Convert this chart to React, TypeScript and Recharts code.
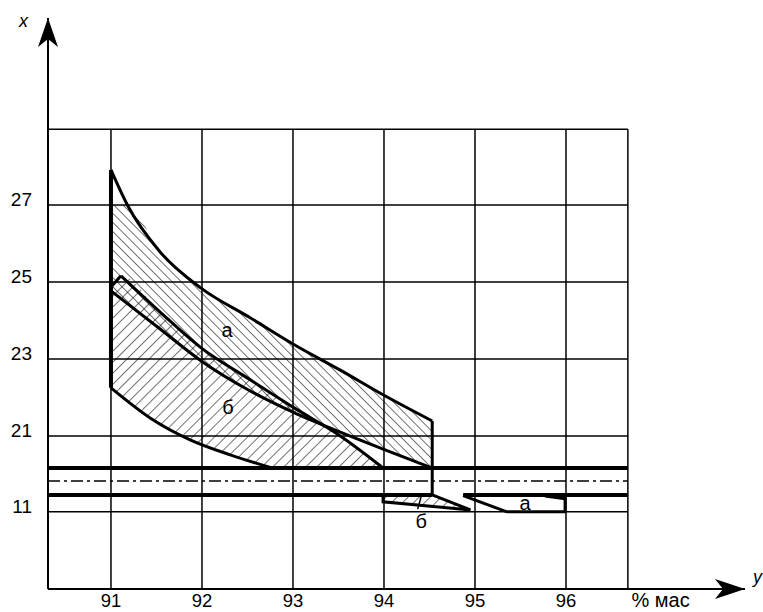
import React from 'react';
import { ComposedChart, XAxis, YAxis, Line, Area, ReferenceLine, ReferenceDot } from 'recharts';

// ---- axis frame (axis units; the y axis is broken below 21, "11" sits at 19.03) ----
const X_MIN = 90.308;
const X_MAX = 97.967;
const Y_MIN = 17.026;
const Y_MAX = 31.857;
const GRID_RIGHT = 96.68;
const GRID_TOP = 28.97;

const xTicks = [91, 92, 93, 94, 95, 96, 97.04];
const xTickLabels = ['91', '92', '93', '94', '95', '96', '% мас'];
const yTicks = [19.03, 21, 23, 25, 27];
const yTickLabels = ['11', '21', '23', '25', '27'];

const gridX = [91, 92, 93, 94, 95, 96, GRID_RIGHT];
const gridY = [19.03, 21, 23, 25, 27, GRID_TOP];
const thickUpperY = 20.17;
const dashDotY = 19.83;
const thickLowerY = 19.47;
const thickLowerSegments = [[X_MIN, 94.53], [94.87, GRID_RIGHT]];

// ---- outlines ----
const upperCurve = [[91, 27.91], [91.18, 27.0], [91.54, 25.78], [91.99, 24.84], [92.53, 24.07], [93.0, 23.39], [93.52, 22.71], [93.99, 22.07], [94.53, 21.39]];
const leftEdge = [[91, 27.91], [91, 22.25]];
const rightEdge = [[94.53, 21.39], [94.53, 19.47]];
const lowerCurve = [[91, 22.25], [91.43, 21.47], [91.87, 20.9], [92.31, 20.51], [92.77, 20.17]];
const bUpperCap = [[91, 24.87], [91.11, 25.16]];
const bUpperLine = [[91.11, 25.16], [91.54, 24.22], [91.98, 23.31], [92.53, 22.46], [93.0, 21.75], [93.52, 21.0], [93.99, 20.17]];
const aLowerLine = [[91, 24.77], [91.54, 23.78], [91.98, 22.97], [92.53, 22.17], [93.0, 21.62], [93.52, 21.1], [93.99, 20.66], [94.53, 20.17]];
const smallB = [[93.99, 19.47], [93.99, 19.29], [94.95, 19.08], [94.53, 19.47]];
const smallA = [[94.87, 19.45], [95.35, 19.03], [95.99, 19.03], [95.99, 19.47]];
const smallATick = [[95.77, 19.44], [95.99, 19.37]];
const leaderB = [[94.41, 19.44], [94.37, 19.1]];

// ---- hatched regions: [x, low, high] ----
const regionA = [[91, 24.77, 27.0], [91.18, 24.44, 27.0], [91.54, 23.78, 25.78], [91.99, 22.96, 24.84], [92.53, 22.17, 24.07], [93.0, 21.62, 23.39], [93.52, 21.1, 22.71], [93.99, 20.66, 22.07], [94.53, 20.17, 21.39]];
const regionB = [[91, 22.25, 24.87], [91.11, 22.05, 25.16], [91.54, 21.32, 24.22], [91.98, 20.8, 23.31], [92.53, 20.34, 22.46], [92.77, 20.17, 22.1], [93.0, 20.17, 21.75], [93.52, 20.17, 21.0], [93.99, 20.17, 20.17]];
const regionSmallB = [[93.99, 19.29, 19.47], [94.53, 19.17, 19.47], [94.95, 19.08, 19.08]];

const regionLabels = [
  { x: 92.275, y: 23.75, t: 'а' },
  { x: 92.286, y: 21.75, t: 'б' },
  { x: 94.41, y: 18.79, t: 'б' },
  { x: 95.55, y: 19.25, t: 'а' },
];

const FONT = '"Liberation Sans", Arial, sans-serif';
const pts = (arr: number[][]) => arr.map(([x, y]) => ({ x, y }));
const rng = (arr: number[][]) => arr.map(([x, lo, hi]) => ({ x, r: [lo, hi] }));

const XTick = (props: any) => {
  const { x, y, payload } = props;
  const i = xTicks.indexOf(payload.value);
  const isUnit = i === xTickLabels.length - 1;
  return (
    <text x={x} y={y + 18} textAnchor="middle" fontFamily={FONT} fontSize={isUnit ? 20 : 18.5} fill="#000">
      {xTickLabels[i]}
    </text>
  );
};
const YTick = (props: any) => {
  const { x, y, payload } = props;
  const i = yTicks.indexOf(payload.value);
  return (
    <text x={x - 16} y={y + 1} textAnchor="end" fontFamily={FONT} fontSize={19} fill="#000">
      {yTickLabels[i]}
    </text>
  );
};

const outline = (arr: number[][], w: number, key: string, type: any = 'linear') => (
  <Line key={key} data={pts(arr)} dataKey="y" type={type} stroke="#000" strokeWidth={w} dot={false} isAnimationActive={false} activeDot={false} />
);

export default function App() {
  return (
    <div style={{ position: 'absolute', left: 0, top: 0, background: '#fff' }}>
      <ComposedChart width={763} height={612} margin={{ top: 18, right: 18, bottom: 0, left: 0 }}>
        <defs>
          <pattern id="hatchA" patternUnits="userSpaceOnUse" width="6.5" height="6.5" patternTransform="rotate(-45)">
            <line x1="0" y1="0" x2="0" y2="6.5" stroke="#000" strokeWidth="1.1" />
          </pattern>
          <pattern id="hatchB" patternUnits="userSpaceOnUse" width="7.8" height="7.8" patternTransform="rotate(45)">
            <line x1="0" y1="0" x2="0" y2="7.8" stroke="#000" strokeWidth="1.1" />
          </pattern>
        </defs>
        <XAxis type="number" dataKey="x" domain={[X_MIN, X_MAX]} allowDataOverflow ticks={xTicks} interval={0}
          height={23} tickSize={0} tickMargin={0} tickLine={false} tick={<XTick />}
          axisLine={{ stroke: '#000', strokeWidth: 2 }} />
        <YAxis type="number" domain={[Y_MIN, Y_MAX]} allowDataOverflow ticks={yTicks} interval={0}
          width={48} tickSize={0} tickMargin={0} tickLine={false} tick={<YTick />}
          axisLine={{ stroke: '#000', strokeWidth: 2 }} />

        {gridX.map((gx) => (
          <ReferenceLine key={'gx' + gx} segment={[{ x: gx, y: Y_MIN }, { x: gx, y: GRID_TOP }]} stroke="#000" strokeWidth={1.5} ifOverflow="visible" />
        ))}
        {gridY.map((gy) => (
          <ReferenceLine key={'gy' + gy} segment={[{ x: X_MIN, y: gy }, { x: GRID_RIGHT, y: gy }]} stroke="#000" strokeWidth={1.5} ifOverflow="visible" />
        ))}
        <ReferenceLine segment={[{ x: X_MIN, y: thickUpperY }, { x: GRID_RIGHT, y: thickUpperY }]} stroke="#000" strokeWidth={4} ifOverflow="visible" />
        <ReferenceLine segment={[{ x: X_MIN, y: dashDotY }, { x: GRID_RIGHT, y: dashDotY }]} stroke="#000" strokeWidth={1.5} strokeDasharray="12 4 3 4" ifOverflow="visible" />
        {thickLowerSegments.map(([a, b]) => (
          <ReferenceLine key={'tl' + a} segment={[{ x: a, y: thickLowerY }, { x: b, y: thickLowerY }]} stroke="#000" strokeWidth={4} ifOverflow="visible" />
        ))}

        <Area data={rng(regionA)} dataKey="r" type="monotone" fill="url(#hatchA)" fillOpacity={1} stroke="none" isAnimationActive={false} activeDot={false} />
        <Area data={rng(regionB)} dataKey="r" type="monotone" fill="url(#hatchB)" fillOpacity={1} stroke="none" isAnimationActive={false} activeDot={false} />
        <Area data={rng(regionSmallB)} dataKey="r" type="linear" fill="url(#hatchB)" fillOpacity={1} stroke="none" isAnimationActive={false} activeDot={false} />

        {outline(upperCurve, 3, 'uc', 'monotone')}
        {outline(leftEdge, 4, 'le')}
        {outline(rightEdge, 3, 're')}
        {outline(lowerCurve, 3, 'lc', 'monotone')}
        {outline(bUpperCap, 3, 'bc')}
        {outline(bUpperLine, 3, 'bu', 'monotone')}
        {outline(aLowerLine, 3, 'al', 'monotone')}
        {outline(smallB, 3, 'sb')}
        {outline(smallA, 3, 'sa')}
        {outline(smallATick, 3, 'sat')}
        {outline(leaderB, 1.5, 'lb')}

        {regionLabels.map((l, i) => (
          <ReferenceDot key={'lab' + i} x={l.x} y={l.y} ifOverflow="visible"
            shape={(p: any) => (
              <text x={p.cx} y={p.cy} textAnchor="middle" dominantBaseline="central" fontFamily={FONT} fontSize={20} fill="#000">{l.t}</text>
            )} />
        ))}

        <ReferenceDot x={X_MIN} y={Y_MAX} ifOverflow="visible"
          shape={(p: any) => (
            <g>
              <path d={`M${p.cx},${p.cy} L${p.cx + 10},${p.cy + 29} L${p.cx},${p.cy + 21} L${p.cx - 10},${p.cy + 29} Z`} fill="#000" />
              <text x={p.cx - 29} y={p.cy + 9} fontFamily={FONT} fontStyle="italic" fontSize={18} fill="#000">x</text>
            </g>
          )} />
        <ReferenceDot x={X_MAX} y={Y_MIN} ifOverflow="visible"
          shape={(p: any) => (
            <g>
              <path d={`M${p.cx},${p.cy} L${p.cx - 30},${p.cy - 10} L${p.cx - 22},${p.cy} L${p.cx - 30},${p.cy + 10} Z`} fill="#000" />
              <text x={p.cx + 8} y={p.cy - 6} fontFamily={FONT} fontStyle="italic" fontSize={18} fill="#000">y</text>
            </g>
          )} />
      </ComposedChart>
    </div>
  );
}
